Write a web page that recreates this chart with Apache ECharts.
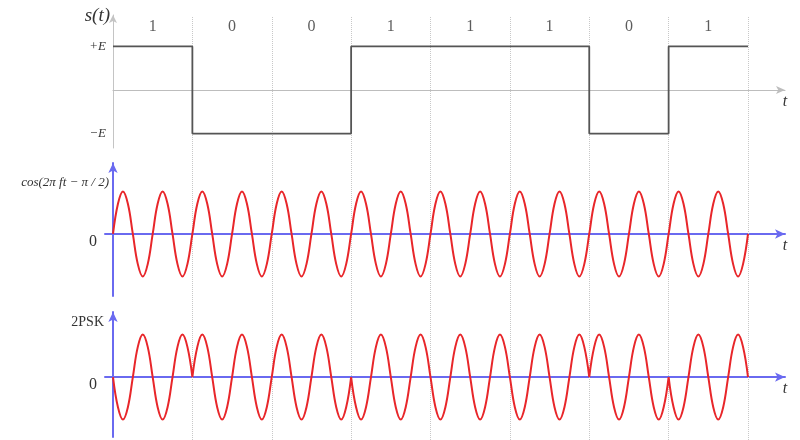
<!DOCTYPE html>
<html>
<head>
<meta charset="utf-8">
<script src="https://cdn.jsdelivr.net/npm/echarts@6/dist/echarts.min.js"></script>
<style>
html, body { margin: 0; padding: 0; background: #fff; }
#chart { width: 800px; height: 440px; }
</style>
</head>
<body>
<div id="chart"></div>
<script>
// bit sequence and baseband level s(t) (in units of E)
var bits = [1, 0, 0, 1, 1, 1, 0, 1];
var levels = [1, -1, -1, 1, 1, 1, -1, 1];
// carrier cos(2πft - π/2), sampled every eighth of a period (2 periods per bit, one row per bit)
var carrier = [
    0, 0.71, 1, 0.71, 0, -0.71, -1, -0.71, 0, 0.71, 1, 0.71, 0, -0.71, -1, -0.71,
    0, 0.71, 1, 0.71, 0, -0.71, -1, -0.71, 0, 0.71, 1, 0.71, 0, -0.71, -1, -0.71,
    0, 0.71, 1, 0.71, 0, -0.71, -1, -0.71, 0, 0.71, 1, 0.71, 0, -0.71, -1, -0.71,
    0, 0.71, 1, 0.71, 0, -0.71, -1, -0.71, 0, 0.71, 1, 0.71, 0, -0.71, -1, -0.71,
    0, 0.71, 1, 0.71, 0, -0.71, -1, -0.71, 0, 0.71, 1, 0.71, 0, -0.71, -1, -0.71,
    0, 0.71, 1, 0.71, 0, -0.71, -1, -0.71, 0, 0.71, 1, 0.71, 0, -0.71, -1, -0.71,
    0, 0.71, 1, 0.71, 0, -0.71, -1, -0.71, 0, 0.71, 1, 0.71, 0, -0.71, -1, -0.71,
    0, 0.71, 1, 0.71, 0, -0.71, -1, -0.71, 0, 0.71, 1, 0.71, 0, -0.71, -1, -0.71,
    0
];
// 2PSK waveform, same sampling
var psk = [
    0, -0.71, -1, -0.71, 0, 0.71, 1, 0.71, 0, -0.71, -1, -0.71, 0, 0.71, 1, 0.71,
    0, 0.71, 1, 0.71, 0, -0.71, -1, -0.71, 0, 0.71, 1, 0.71, 0, -0.71, -1, -0.71,
    0, 0.71, 1, 0.71, 0, -0.71, -1, -0.71, 0, 0.71, 1, 0.71, 0, -0.71, -1, -0.71,
    0, -0.71, -1, -0.71, 0, 0.71, 1, 0.71, 0, -0.71, -1, -0.71, 0, 0.71, 1, 0.71,
    0, -0.71, -1, -0.71, 0, 0.71, 1, 0.71, 0, -0.71, -1, -0.71, 0, 0.71, 1, 0.71,
    0, -0.71, -1, -0.71, 0, 0.71, 1, 0.71, 0, -0.71, -1, -0.71, 0, 0.71, 1, 0.71,
    0, 0.71, 1, 0.71, 0, -0.71, -1, -0.71, 0, 0.71, 1, 0.71, 0, -0.71, -1, -0.71,
    0, -0.71, -1, -0.71, 0, 0.71, 1, 0.71, 0, -0.71, -1, -0.71, 0, 0.71, 1, 0.71,
    0
];
var samplesPerBit = 16;

var serif = '"Liberation Serif", "DejaVu Serif", serif';
var blue = '#6a6af0';
var red = '#e8262a';
var pxPerBit = 635 / 8;
var xMax = 672 / pxPerBit;
var xMinLeft = -8 / pxPerBit;

var stepData = levels.map(function (v, i) { return [i, v]; });
stepData.push([levels.length, levels[levels.length - 1]]);

var carrierData = carrier.map(function (v, k) { return [k / samplesPerBit, v]; });

// break the 2PSK line where the phase flips so each piece keeps its cusp
var pskData = [];
psk.forEach(function (v, k) {
    pskData.push([k / samplesPerBit, v]);
    var b = k / samplesPerBit;
    if (k % samplesPerBit === 0 && b > 0 && b < bits.length && bits[b - 1] !== bits[b]) {
        pskData.push([b, '-']);
        pskData.push([b, v]);
    }
});

var bitEdges = bits.map(function (b, i) { return { xAxis: i + 1 }; });
var bitLabels = bits.map(function (b, i) { return [i + 0.5, 1.46, b]; });

function tName() {
    return {
        name: 't', nameLocation: 'end', nameGap: 0,
        nameTextStyle: { fontFamily: serif, fontStyle: 'italic', fontSize: 16, color: '#333', align: 'center', verticalAlign: 'top', padding: [4, 0, 0, 0] }
    };
}

function waveX(grid) {
    return Object.assign({
        type: 'value', gridIndex: grid, min: xMinLeft, max: xMax,
        axisLine: { lineStyle: { color: blue, width: 2 }, symbol: ['none', 'arrow'], symbolSize: [7, 10] },
        axisTick: { show: false }, axisLabel: { show: false }, splitLine: { show: false }
    }, tName());
}

function waveY(grid, min, max) {
    return {
        type: 'value', gridIndex: grid, min: min, max: max,
        axisLine: { onZero: true, lineStyle: { color: blue, width: 2 }, symbol: ['none', 'arrow'], symbolSize: [7, 10] },
        axisTick: { show: false }, splitLine: { show: false },
        axisLabel: { customValues: [0], verticalAlign: 'top', margin: 8, fontFamily: serif, fontSize: 16, color: '#333' }
    };
}

var option = {
    animation: false,
    backgroundColor: '#fff',
    grid: [
        { left: 113, right: 52, top: 17, bottom: 0 },
        { left: 113, right: 15, top: 15, height: 133 },
        { left: 105, right: 15, top: 163, height: 133 },
        { left: 105, right: 15, top: 312, height: 125 }
    ],
    xAxis: [
        { type: 'value', gridIndex: 0, min: 0, max: 8, show: false },
        Object.assign({
            type: 'value', gridIndex: 1, min: 0, max: xMax,
            axisLine: { lineStyle: { color: '#bdbdbd', width: 1 }, symbol: ['none', 'arrow'], symbolSize: [6, 9] },
            axisTick: { show: false }, axisLabel: { show: false }, splitLine: { show: false }
        }, tName()),
        waveX(2),
        waveX(3)
    ],
    yAxis: [
        { type: 'value', gridIndex: 0, min: 0, max: 1, show: false },
        {
            type: 'value', gridIndex: 1, min: -1.33, max: 1.72,
            axisLine: { lineStyle: { color: '#c4c4c4', width: 1 }, symbol: ['none', 'arrow'], symbolSize: [6, 8] },
            axisTick: { show: false }, splitLine: { show: false },
            axisLabel: {
                customValues: [-1, 1], margin: 7, fontFamily: serif, fontStyle: 'italic', fontSize: 13, color: '#333',
                formatter: function (v) { return v > 0 ? '+E' : '\u2212E'; }
            }
        },
        waveY(2, -1.46, 1.67),
        waveY(3, -1.41, 1.53)
    ],
    graphic: [
        { type: 'text', x: 110, y: 16, style: { text: 's(t)', font: 'italic 19px ' + serif, fill: '#333', align: 'right', verticalAlign: 'middle' } },
        { type: 'text', x: 109, y: 183, style: { text: 'cos(2\u03c0 ft \u2212 \u03c0 / 2)', font: 'italic 13px ' + serif, fill: '#333', align: 'right', verticalAlign: 'middle' } },
        { type: 'text', x: 104, y: 322, style: { text: '2PSK', font: '14px ' + serif, fill: '#333', align: 'right', verticalAlign: 'middle' } }
    ],
    series: [
        {
            type: 'line', xAxisIndex: 0, yAxisIndex: 0, data: [], silent: true, z: 1,
            markLine: {
                silent: true, symbol: 'none', label: { show: false }, z: 1,
                lineStyle: { color: '#c8c8c8', type: 'dotted', width: 1 },
                data: bitEdges
            }
        },
        {
            type: 'line', xAxisIndex: 1, yAxisIndex: 1, data: stepData, step: 'end', z: 5,
            showSymbol: false, lineStyle: { color: '#555', width: 1.8 }
        },
        {
            type: 'scatter', xAxisIndex: 1, yAxisIndex: 1, data: bitLabels, symbolSize: 0,
            label: { show: true, position: 'inside', formatter: function (p) { return p.value[2]; }, fontFamily: serif, fontSize: 16, color: '#333' }
        },
        {
            type: 'line', xAxisIndex: 2, yAxisIndex: 2, data: carrierData, smooth: 0.4, z: 5,
            showSymbol: false, lineStyle: { color: red, width: 2 }
        },
        {
            type: 'line', xAxisIndex: 3, yAxisIndex: 3, data: pskData, smooth: 0.4, z: 5,
            showSymbol: false, connectNulls: false, lineStyle: { color: red, width: 2 }
        }
    ]
};

var myChart = echarts.init(document.getElementById('chart'));
myChart.setOption(option, true);
</script>
</body>
</html>
